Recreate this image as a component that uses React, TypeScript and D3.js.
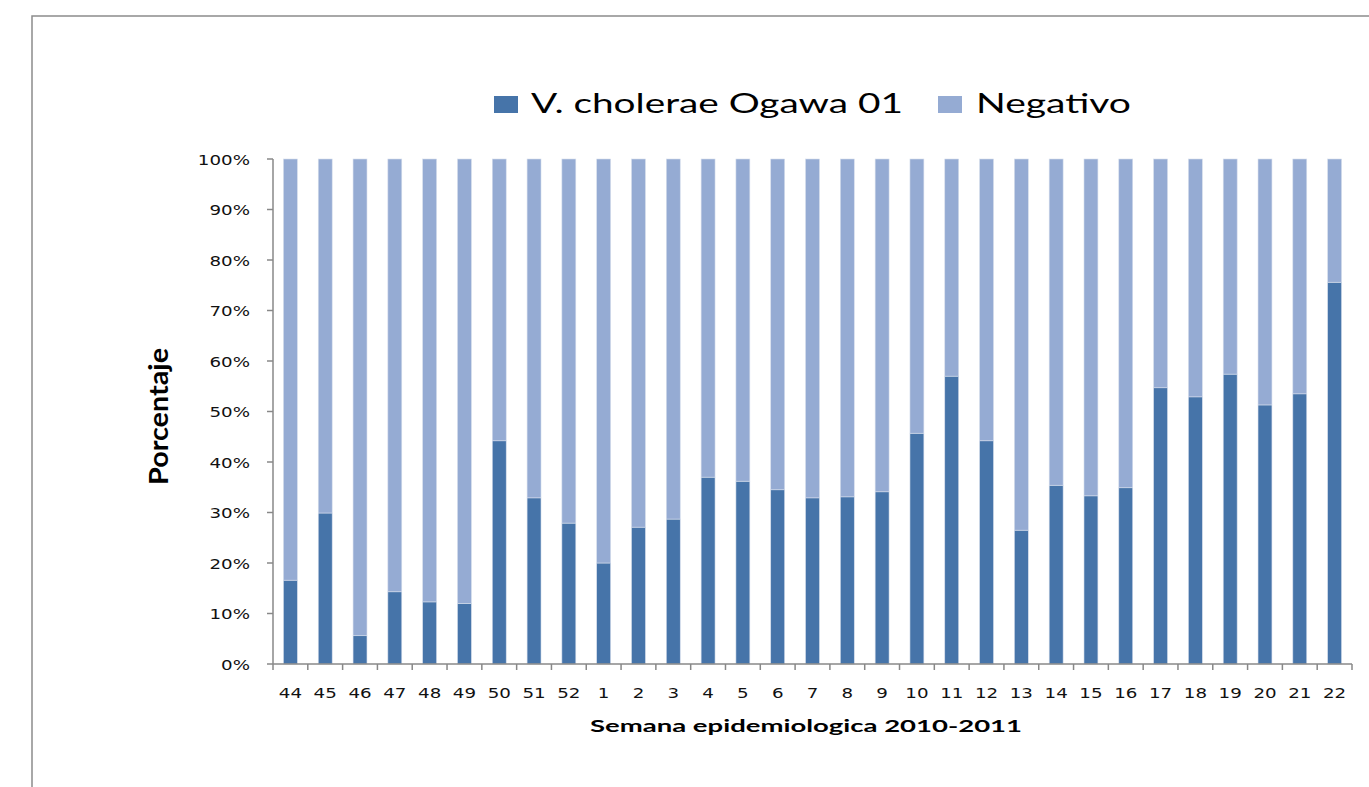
import React from 'react'
import * as d3 from 'd3'

// semanas epidemiologicas 2010-2011
const weeks = ['44', '45', '46', '47', '48', '49', '50', '51', '52', '1', '2', '3', '4', '5', '6', '7', '8', '9', '10', '11', '12', '13', '14', '15', '16', '17', '18', '19', '20', '21', '22']
const cholerae = [16.6, 29.9, 5.6, 14.3, 12.3, 12.0, 44.2, 32.9, 27.9, 20.0, 27.1, 28.7, 37.0, 36.2, 34.5, 32.9, 33.1, 34.1, 45.7, 57.0, 44.2, 26.5, 35.4, 33.3, 34.9, 54.7, 52.9, 57.4, 51.3, 53.5, 75.6]
const negativo = cholerae.map(v => 100 - v)
const seriesNames = ['V. cholerae Ogawa 01', 'Negativo']
const colors = ['#4674A9', '#95ABD3']
const yTicks = [0, 10, 20, 30, 40, 50, 60, 70, 80, 90, 100]

const W = 1369, H = 787
const left = 273, right = 1352, top = 159, bottom = 664
const SX = 1.25 // the original picture is stretched sideways

export default function App() {
  const x = d3.scaleBand().domain(weeks).range([left, right]).paddingInner(0.6).paddingOuter(0.3)
  const band = d3.scaleBand().domain(weeks).range([left, right])
  const y = d3.scaleLinear().domain([0, 100]).range([bottom, top])

  const rows = weeks.map((w, i) => ({ week: w, a: cholerae[i], b: negativo[i] }))
  const stacked = d3.stack<any>().keys(['a', 'b'])(rows)

  const tickFont = { fontFamily: 'DejaVu Sans', fontSize: 14.6, fill: '#111' }
  const axisColor = '#888'

  return (
    <svg width={W} height={H} style={{ position: 'absolute', left: 0, top: 0, background: '#fff' }}>
      <rect x={32} y={16} width={1400} height={820} fill="none" stroke="#8c8c8c" strokeWidth={1.5} />

      {/* legend */}
      <rect x={494} y={96} width={24} height={17} fill={colors[0]} />
      <text x={531} y={113} fontFamily="Lato" fontSize={27} textLength={372} lengthAdjust="spacingAndGlyphs" fill="#000">{seriesNames[0]}</text>
      <rect x={938} y={96} width={24} height={17} fill={colors[1]} />
      <text x={976} y={113} fontFamily="Lato" fontSize={27} textLength={155} lengthAdjust="spacingAndGlyphs" fill="#000">{seriesNames[1]}</text>

      {/* bars */}
      {stacked.map((s, si) => (
        <g key={si} fill={colors[si]}>
          {s.map((d, i) => (
            <rect key={i} x={x(weeks[i])} width={x.bandwidth()} y={y(d[1])} height={y(d[0]) - y(d[1])}
              stroke="#d6deec" strokeWidth={0.6} />
          ))}
        </g>
      ))}

      {/* y axis */}
      <line x1={left} x2={left} y1={top} y2={bottom} stroke={axisColor} strokeWidth={1.5} />
      {yTicks.map(t => (
        <g key={t}>
          <line x1={left - 6} x2={left} y1={y(t)} y2={y(t)} stroke={axisColor} strokeWidth={1.5} />
          <text transform={`translate(250,${y(t) + 5.5}) scale(${SX},1)`} textAnchor="end" {...tickFont}>{t}%</text>
        </g>
      ))}

      {/* x axis */}
      <line x1={left} x2={right} y1={bottom} y2={bottom} stroke={axisColor} strokeWidth={1.5} />
      {weeks.concat(['end']).map((w, i) => {
        const xx = i < weeks.length ? band(w)! : right
        return <line key={i} x1={xx} x2={xx} y1={bottom} y2={bottom + 6} stroke={axisColor} strokeWidth={1.5} />
      })}
      {weeks.map(w => (
        <text key={w} transform={`translate(${band(w)! + band.bandwidth() / 2},698) scale(${SX},1)`} textAnchor="middle" {...tickFont}>{w}</text>
      ))}

      {/* axis titles */}
      <text x={806} y={732} textAnchor="middle" fontFamily="Lato" fontWeight="bold" fontSize={17.5} textLength={432} lengthAdjust="spacingAndGlyphs" fill="#000">Semana epidemiologica 2010-2011</text>
      <text transform={`translate(168,416.5) rotate(-90) scale(1,${SX})`} textAnchor="middle" fontFamily="Lato" fontWeight="bold" fontSize={22} textLength={137} lengthAdjust="spacingAndGlyphs" fill="#000">Porcentaje</text>
    </svg>
  )
}
